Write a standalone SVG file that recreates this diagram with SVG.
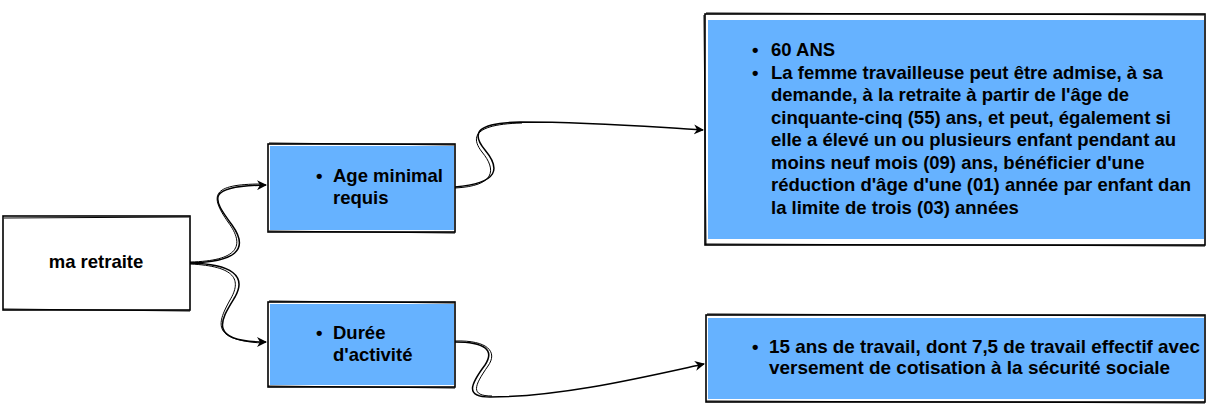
<svg xmlns="http://www.w3.org/2000/svg" width="1212" height="417" viewBox="0 0 1212 417">
<style>
.box{stroke:#000;stroke-width:1.6;fill:none}
.sk{stroke:#000;stroke-width:1;fill:none}
.fill{fill:#66b2ff}
.t{font-family:"Liberation Sans",Arial,sans-serif;font-weight:bold;font-size:18.5px;fill:#000}
.c{stroke:#000;stroke-width:1.5;fill:none}
.c2{stroke:#000;stroke-width:1;fill:none}
</style>
<defs>
<marker id="ar" viewBox="0 0 10 10" refX="9" refY="5" markerWidth="10" markerHeight="10" markerUnits="userSpaceOnUse" orient="auto">
<path d="M0,0 L10,5 L0,10 L3,5 z" fill="#000"/>
</marker>
</defs>
<rect width="1212" height="417" fill="#fff"/>
<g id="connectors">
<path class="c" d="M190,263 C235,262 250,250 232,225 C212,198 205,186 266,185" marker-end="url(#ar)"/>
<path class="c2" d="M190,262 C238,261 246,246 228,222 C210,196 210,184 262,184"/>
<path class="c" d="M190,263 C232,264 247,276 235,297 C222,318 205,342 266,342" marker-end="url(#ar)"/>
<path class="c2" d="M190,264 C236,266 242,280 230,300 C218,322 210,340 262,343"/>
<path class="c" d="M455,187 C500,183 500,168 485,150 C470,132 478,123 520,122 C600,122 650,127 703,130" marker-end="url(#ar)"/>
<path class="c2" d="M455,188 C495,186 497,170 482,152 C468,134 480,124 522,123"/>
<path class="c" d="M455,342 C485,342 495,350 485,365 C470,385 465,397 490,397 C560,397 640,378 704,364" marker-end="url(#ar)"/>
<path class="c2" d="M455,341 C488,340 498,352 488,366 C474,386 470,396 492,396"/>
</g>
<g id="node-ma-retraite">
<rect class="box" x="3" y="216" width="187" height="94"/>
<path class="sk" d="M4,218 L189,217 M3,309 L190,311"/>
<text class="t" x="96" y="268" text-anchor="middle">ma retraite</text>
</g>
<g id="node-age">
<rect class="fill" x="270" y="146" width="184" height="84"/>
<rect class="box" x="268" y="144" width="187" height="88"/>
<path class="sk" d="M269,143 L454,145 M269,231 L455,233"/>
<text class="t" x="316" y="182">•</text>
<text class="t" x="333" y="182">Age minimal</text>
<text class="t" x="333" y="204">requis</text>
</g>
<g id="node-duree">
<rect class="fill" x="270" y="304" width="184" height="81"/>
<rect class="box" x="268" y="302" width="187" height="85"/>
<path class="sk" d="M269,301 L454,303 M268,386 L455,388"/>
<text class="t" x="316" y="339">•</text>
<text class="t" x="333" y="339">Durée</text>
<text class="t" x="333" y="361">d'activité</text>
</g>
<g id="node-age-detail">
<rect class="fill" x="708" y="20" width="496" height="219"/>
<rect class="box" x="705" y="14" width="500" height="231"/>
<path class="sk" d="M706,13 L1204,15 M705,244 L1205,246 M704,15 L706,245"/>
<text class="t" x="752" y="56">•</text>
<text class="t" x="771" y="56">60 ANS</text>
<text class="t" x="752" y="78.5">•</text>
<text class="t" x="771" y="78.5">La femme travailleuse peut être admise, à sa</text>
<text class="t" x="771" y="101">demande, à la retraite à partir de l'âge de</text>
<text class="t" x="771" y="123.5">cinquante-cinq (55) ans, et peut, également si</text>
<text class="t" x="771" y="146">elle a élevé un ou plusieurs enfant pendant au</text>
<text class="t" x="771" y="168.5">moins neuf mois (09) ans, bénéficier d'une</text>
<text class="t" x="771" y="191">réduction d'âge d'une (01) année par enfant dan</text>
<text class="t" x="771" y="213.5">la limite de trois (03) années</text>
</g>
<g id="node-duree-detail">
<rect class="fill" x="708" y="318" width="496" height="81"/>
<rect class="box" x="706" y="315" width="499" height="87"/>
<path class="sk" d="M707,314 L1204,316 M706,401 L1205,403"/>
<text class="t" x="752" y="353" font-size="17.5">•</text>
<text class="t" x="769" y="353" font-size="17.5" textLength="431" lengthAdjust="spacingAndGlyphs">15 ans de travail, dont 7,5 de travail effectif avec</text>
<text class="t" x="769" y="374" font-size="17.5" textLength="401" lengthAdjust="spacingAndGlyphs">versement de cotisation à la sécurité sociale</text>
</g>
</svg>
